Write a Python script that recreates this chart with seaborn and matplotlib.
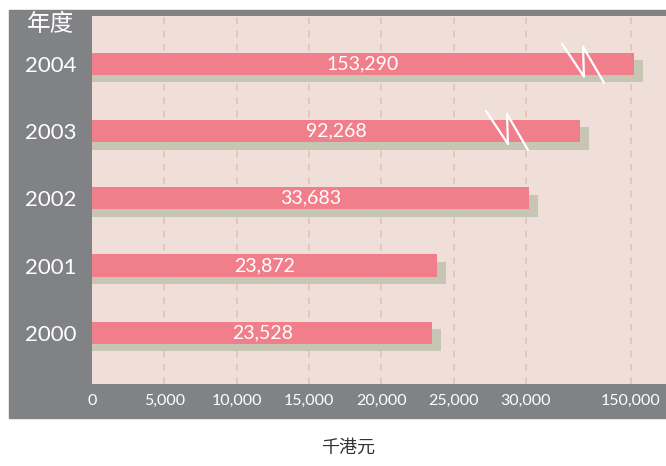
import matplotlib
matplotlib.use("Agg")
import matplotlib.pyplot as plt
import matplotlib.transforms as mtransforms
from matplotlib.patches import Rectangle
import seaborn as sns
import numpy as np
import pandas as pd

# data (top to bottom as in the chart)
years = ["2004", "2003", "2002", "2001", "2000"]
values = [153290, 92268, 33683, 23872, 23528]
tick_values = [0, 5000, 10000, 15000, 20000, 25000, 30000, 150000]
broken_years = ["2004", "2003"]

GREY = "#818286"
BG = "#F0DFD8"
BAR = "#F17F8B"
SHADOW = "#C7C6B5"
GRID = "#E5C2B7"

# the axis is broken after 30,000, the stretch up to 150,000 is squeezed
BREAK = 30000
SQUEEZE = 7261 / 120000


def fwd(x):
    x = np.asarray(x, dtype=float)
    return np.where(x <= BREAK, x, BREAK + (x - BREAK) * SQUEEZE)


def inv(p):
    p = np.asarray(p, dtype=float)
    return np.where(p <= BREAK, p, BREAK + (p - BREAK) / SQUEEZE)


sns.set_style("white")
plt.rcParams["font.family"] = ["Lato", "Noto Sans CJK TC", "DejaVu Sans"]

fig = plt.figure(figsize=(6.66, 4.66), dpi=100)
fig.add_artist(Rectangle((9 / 666, 1 - 418 / 466), 657 / 666, 408 / 466,
                         transform=fig.transFigure, color=GREY, zorder=-10))
ax = fig.add_axes([92 / 666, 1 - 384 / 466, 574 / 666, 368 / 466])
ax.set_facecolor(BG)

df = pd.DataFrame({"year": years, "value": values})

# shadow bars, drawn twice so the shadow also covers the left edge
for dx in (0, 9):
    sns.barplot(data=df, x="value", y="year", order=years, orient="h",
                color=SHADOW, saturation=1, width=0.33, errorbar=None,
                linewidth=0, edgecolor="none", ax=ax)
    shift = mtransforms.ScaledTranslation(dx / 100, -7.5 / 100, fig.dpi_scale_trans)
    for p in ax.containers[-1]:
        p.set_transform(ax.transData + shift)

sns.barplot(data=df, x="value", y="year", order=years, orient="h",
            color=BAR, saturation=1, width=0.33, errorbar=None,
            linewidth=0, edgecolor="none", ax=ax)

ax.set_xscale("function", functions=(fwd, inv))
ax.set_xlim(0, 190000)
ax.set_ylim(4 + 51.2 / 67.3, -47.7 / 67.3)
ax.set_xticks(tick_values)
ax.set_xticklabels([f"{v:,}" for v in tick_values])
ax.tick_params(axis="x", length=0, pad=7, labelsize=11.5, labelcolor="white")
ax.tick_params(axis="y", length=0, pad=29.5, labelsize=16, labelcolor="white")
for lbl in ax.get_yticklabels():
    lbl.set_ha("center")

ax.grid(axis="x", color=GRID, linestyle=(0, (4, 4)), linewidth=1.2)
ax.grid(axis="y", visible=False)
ax.get_xgridlines()[0].set_visible(False)
ax.set_axisbelow(True)
for s in ax.spines.values():
    s.set_visible(False)
ax.set_xlabel("")
ax.set_ylabel("")

ax.bar_label(ax.containers[-1], fmt="{:,.0f}", label_type="center",
             color="white", fontsize=14)

# zigzag break marks on the long bars
blend = mtransforms.blended_transform_factory(ax.transAxes, ax.transData)
zig_dx = np.array([-21, 1, 0, 21]) / 574
zig_dy = np.array([-20, 13, -17, 19]) / 67.3
break_x = {"2004": (583 - 92) / 574, "2003": (507 - 92) / 574}
for i, yr in enumerate(years):
    if yr in broken_years:
        ax.plot(break_x[yr] + zig_dx, i + zig_dy, transform=blend,
                color="white", lw=1.6, zorder=5, clip_on=False)

fig.text(50 / 666, 1 - 24 / 466, "年度", color="white", fontsize=17,
         ha="center", va="center")
fig.text(348 / 666, 1 - 447 / 466, "千港元", color="#333333", fontsize=13,
         ha="center", va="center")

fig.savefig("out.png", dpi=100)
